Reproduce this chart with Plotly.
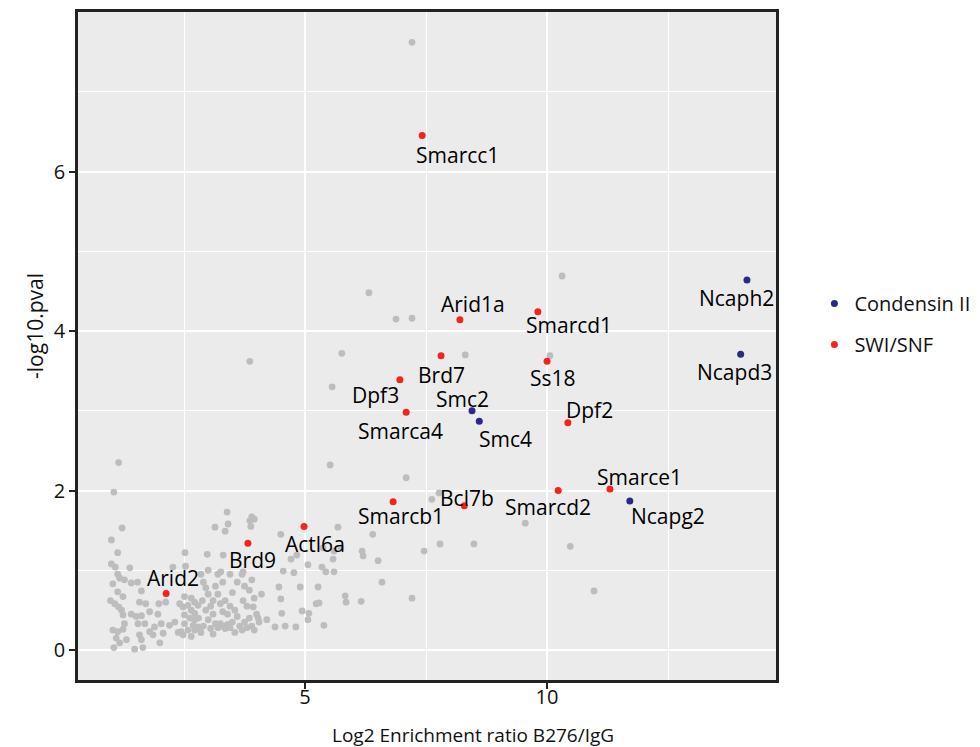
import plotly.graph_objects as go

# ---------------- data ----------------
# background (unlabelled) proteins
bg_x = [1.15, 1.05, 1.22, 1.00, 1.13, 1.00, 1.08, 1.38, 1.13, 1.17, 1.27, 1.41, 1.54, 1.03, 1.13, 1.24, 1.62,
        0.98, 1.07, 1.15, 1.21, 1.58, 1.71, 1.98, 2.12, 1.24, 1.41, 1.51, 1.62, 1.79, 1.96, 1.27, 1.55, 1.69,
        1.89, 2.03, 2.20, 2.31, 1.03, 1.13, 1.24, 1.58, 1.79, 1.86, 2.07, 2.38, 1.10, 1.17, 1.31, 1.62, 2.00,
        1.05, 1.48, 1.65, 2.27, 2.53, 2.52,
        2.51, 2.65, 2.72, 2.41, 2.48, 2.58, 2.79, 2.65, 2.72, 2.51, 2.62, 2.72, 2.51, 2.69, 2.79, 2.44, 2.58,
        2.72, 2.65, 2.48,
        2.85, 2.90, 2.95, 3.00, 2.88, 3.05, 2.95, 3.10, 3.00, 3.15, 2.90, 3.05, 3.20, 3.25, 3.30, 3.35, 3.40,
        3.45, 3.50, 3.10, 3.20, 3.15, 3.25, 3.30, 3.40, 3.35, 3.45, 3.50, 3.55, 3.60, 3.65, 3.70, 3.75, 3.80,
        3.85, 3.60, 3.70, 3.72, 3.80, 3.85, 3.90, 3.95, 4.00, 4.05, 3.90, 3.20, 3.00, 3.30, 2.80, 2.85, 3.10,
        3.55, 3.95, 4.10, 3.75, 3.45,
        2.98, 3.31, 3.14, 3.35, 3.39, 3.41, 3.90, 3.95, 3.88, 3.86, 4.50, 3.26, 3.72, 4.55, 4.46, 4.90, 4.50,
        4.52, 4.94, 4.03, 4.21, 4.38, 4.59, 4.81, 3.93, 4.71, 4.83, 4.77, 5.06, 5.08, 5.06, 5.39,
        5.68, 5.60, 5.58, 5.60, 5.43, 5.35, 5.37, 5.74, 5.27, 5.23, 5.29, 5.83, 5.85, 6.16, 6.40, 6.18, 6.20,
        6.51, 6.59, 7.21, 5.52, 7.09, 7.62, 7.77, 7.46, 7.79, 8.49, 9.55, 10.48, 10.97,
        7.21, 10.31, 6.32, 6.88, 7.21, 8.31, 10.06, 3.86, 5.76, 5.56]
bg_y = [2.35, 1.98, 1.53, 1.38, 1.22, 1.08, 1.04, 1.03, 0.95, 0.90, 0.88, 0.84, 0.85, 0.83, 0.73, 0.67, 0.74,
        0.62, 0.58, 0.54, 0.50, 0.60, 0.58, 0.58, 0.60, 0.44, 0.45, 0.42, 0.43, 0.48, 0.45, 0.33, 0.33, 0.33,
        0.29, 0.33, 0.31, 0.35, 0.25, 0.23, 0.26, 0.19, 0.23, 0.19, 0.21, 0.22, 0.15, 0.09, 0.13, 0.13, 0.09,
        0.03, 0.01, 0.03, 1.04, 1.05, 1.22,
        0.67, 0.65, 0.60, 0.58, 0.54, 0.56, 0.56, 0.50, 0.46, 0.44, 0.40, 0.38, 0.33, 0.31, 0.29, 0.23, 0.25,
        0.25, 0.17, 0.19,
        0.95, 0.85, 0.78, 0.70, 0.62, 0.55, 0.50, 0.45, 0.38, 0.33, 0.30, 0.27, 0.28, 0.33, 0.30, 0.27, 0.32,
        0.28, 0.35, 0.62, 0.70, 0.80, 0.58, 0.48, 0.45, 0.62, 0.55, 0.72, 0.50, 0.42, 0.30, 0.25, 0.35, 0.28,
        0.40, 0.85, 0.95, 0.62, 0.55, 0.75, 0.88, 0.65, 0.45, 0.35, 0.30, 0.95, 1.00, 0.85, 0.40, 0.22, 0.20,
        0.22, 0.25, 0.70, 0.80, 0.95,
        1.20, 1.19, 1.54, 1.49, 1.73, 1.58, 1.67, 1.64, 1.55, 1.62, 1.45, 0.98, 0.98, 0.99, 0.79, 0.79, 0.64,
        0.46, 0.49, 0.40, 0.38, 0.29, 0.30, 0.29, 0.54, 1.14, 1.19, 0.97, 1.07, 0.46, 0.38, 0.31,
        1.54, 1.24, 1.14, 0.98, 0.98, 1.04, 1.28, 1.28, 0.79, 0.58, 0.59, 0.68, 0.60, 0.61, 1.45, 1.24, 1.18,
        1.12, 0.85, 0.65, 2.32, 2.16, 1.89, 1.97, 1.24, 1.33, 1.33, 1.59, 1.30, 0.74,
        7.62, 4.69, 4.48, 4.15, 4.16, 3.70, 3.69, 3.62, 3.72, 3.30]

# labelled complex members
genes = ["Ncaph2", "Ncapd3", "Smc2", "Smc4", "Ncapg2",
         "Smarcc1", "Arid1a", "Smarcd1", "Brd7", "Ss18", "Dpf3", "Smarca4", "Dpf2",
         "Smarce1", "Smarcd2", "Bcl7b", "Smarcb1", "Actl6a", "Brd9", "Arid2"]
gene_x = [14.13, 14.00, 8.45, 8.60, 11.71,
          7.42, 8.20, 9.81, 7.81, 10.00, 6.96, 7.09, 10.43,
          11.30, 10.23, 8.29, 6.82, 4.98, 3.82, 2.13]
gene_y = [4.64, 3.71, 3.00, 2.87, 1.87,
          6.45, 4.14, 4.24, 3.69, 3.62, 3.39, 2.98, 2.85,
          2.02, 2.00, 1.81, 1.86, 1.55, 1.34, 0.71]
gene_group = ["Condensin II"] * 5 + ["SWI/SNF"] * 15
groups = ["Condensin II", "SWI/SNF"]

x_ticks = [5, 10]
y_ticks = [0, 2, 4, 6]
x_title = "Log2 Enrichment ratio B276/IgG"
y_title = "-log10.pval"

# ---------------- style ----------------
group_colors = {"Condensin II": "#2a2a85", "SWI/SNF": "#f5231f"}
label_offsets = {  # pixel offsets (dx, dy) of each label relative to its point
    "Smarcc1": (35, -19), "Arid1a": (13, 16), "Smarcd1": (31, -13), "Brd7": (0, -19),
    "Ss18": (6, -17), "Dpf3": (-24, -15), "Smarca4": (-6, -19), "Smc2": (-10, 12),
    "Smc4": (26, -18), "Dpf2": (22, 13), "Smarce1": (30, 12), "Ncapg2": (38, -15),
    "Smarcd2": (-10, -16), "Bcl7b": (3, 8), "Smarcb1": (8, -14), "Actl6a": (11, -18),
    "Brd9": (5, -17), "Arid2": (7, 15), "Ncaph2": (-10, -18), "Ncapd3": (-6, -18),
}
FONT = "Open Sans"

fig = go.Figure()
fig.add_trace(go.Scatter(x=bg_x, y=bg_y, mode="markers", showlegend=False,
                         marker=dict(color="#bdbdbd", size=6.8), hoverinfo="skip"))
for g in groups:
    xs = [x for x, gg in zip(gene_x, gene_group) if gg == g]
    ys = [y for y, gg in zip(gene_y, gene_group) if gg == g]
    ts = [t for t, gg in zip(genes, gene_group) if gg == g]
    fig.add_trace(go.Scatter(x=xs, y=ys, mode="markers", name=g, text=ts, legendgroup=g,
                             marker=dict(color=group_colors[g], size=7)))

for name, x, y in zip(genes, gene_x, gene_y):
    dx, dy = label_offsets[name]
    fig.add_annotation(x=x, y=y, text=name, showarrow=False, xshift=dx, yshift=dy,
                       font=dict(family=FONT, size=21, color="black"))

# axis titles (centred like the original layout)
fig.add_annotation(xref="paper", yref="paper", x=0.566, y=0, yshift=-55, yanchor="middle",
                   text=x_title, showarrow=False,
                   font=dict(family=FONT, size=19, color="#111111"))
fig.add_annotation(xref="paper", yref="paper", x=-0.0616, y=0.53, xanchor="center", yanchor="middle",
                   text=y_title, textangle=-90, showarrow=False,
                   font=dict(family=FONT, size=21, color="#111111"))

axis_common = dict(showline=True, mirror=True, linecolor="#222222", linewidth=2.5,
                   ticks="outside", ticklen=6, tickwidth=1.5, tickcolor="#222222",
                   gridcolor="white", gridwidth=1.6, zeroline=False, automargin=False,
                   tickfont=dict(family=FONT, size=20, color="#111111"))

fig.update_xaxes(range=[0.31, 14.73], tickvals=x_ticks, ticklabelstandoff=-9,
                 minor=dict(tickvals=[2.5, 7.5, 12.5], showgrid=True, gridcolor="white",
                            gridwidth=0.8, ticks=""),
                 **axis_common)
fig.update_yaxes(range=[-0.376, 8.0], tickvals=y_ticks,
                 minor=dict(tickvals=[1, 3, 5, 7], showgrid=True, gridcolor="white",
                            gridwidth=0.8, ticks=""),
                 **axis_common)

# page body adds an 8px margin, so the figure is shifted by 8px
fig.update_layout(
    width=980, height=739,
    margin=dict(l=70, r=212, t=4, b=67),
    paper_bgcolor="white", plot_bgcolor="#ebebeb",
    legend=dict(x=1.055, y=0.593, xanchor="left", yanchor="top",
                font=dict(family=FONT, size=20, color="#111111"),
                tracegroupgap=12, bgcolor="rgba(0,0,0,0)"),
    font=dict(family=FONT),
)

fig.write_html("out.html")
